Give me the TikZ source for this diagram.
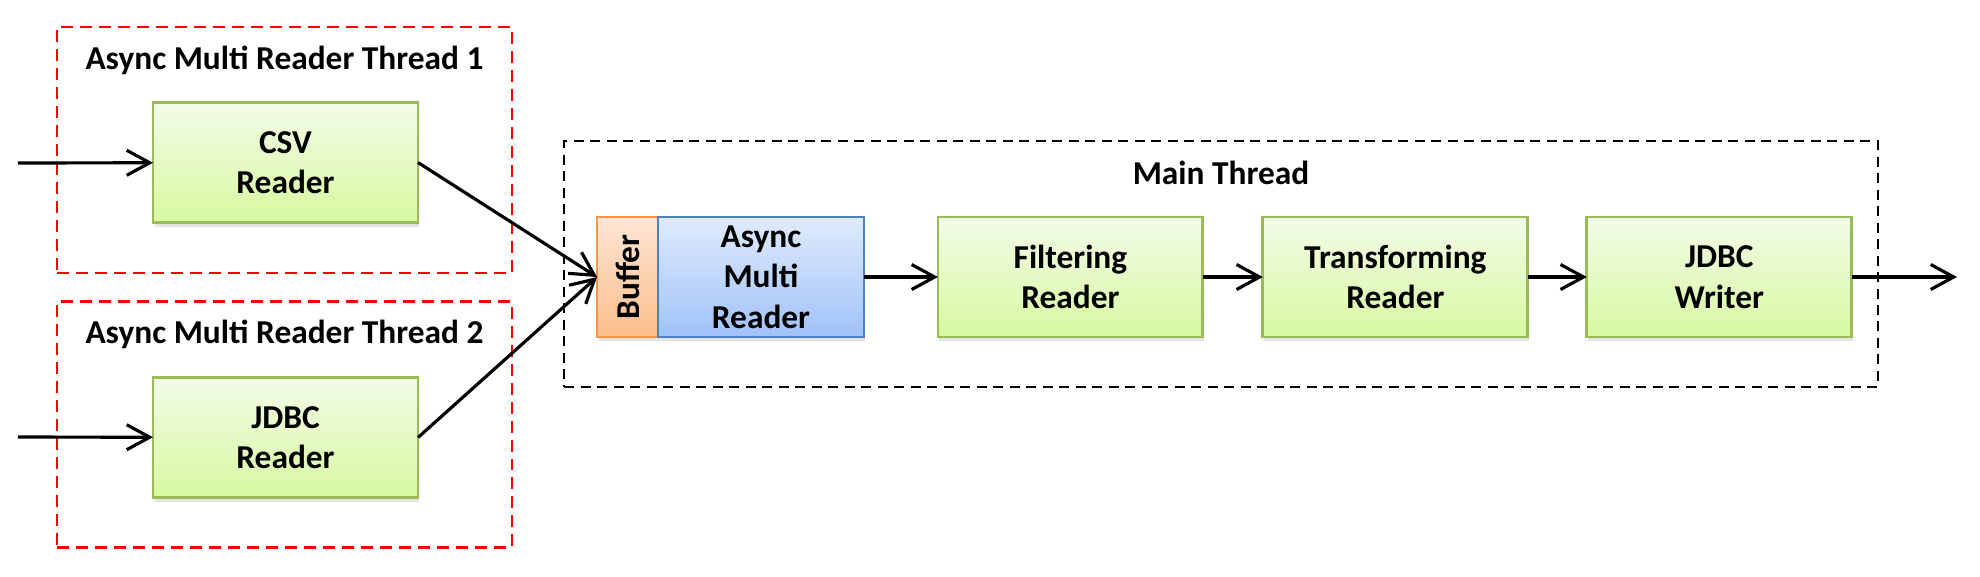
\documentclass[tikz,border=0pt]{standalone}
\usepackage{fontspec}
\setmainfont{Carlito}
\usetikzlibrary{arrows.meta, positioning, shadows}
\definecolor{leafGreen}{RGB}{155,187,89}
\definecolor{leafTop}{RGB}{243,251,232}
\definecolor{leafBottom}{RGB}{215,249,160}
\definecolor{skyBlue}{RGB}{79,129,189}
\definecolor{skyTop}{RGB}{224,235,252}
\definecolor{skyBottom}{RGB}{160,194,248}
\definecolor{peachOrange}{RGB}{247,150,70}
\definecolor{peachTop}{RGB}{253,230,214}
\definecolor{peachBottom}{RGB}{251,190,138}

\begin{document}
\begin{tikzpicture}[
  x=0.02cm, y=-0.02cm,
  txt/.style={font=\fontsize{19}{23}\selectfont\bfseries, align=center},
  stage/.style={
    rectangle, txt, line width=1.6pt, inner sep=0pt, outer sep=0pt,
    minimum width=5.3cm, minimum height=2.4cm,
    drop shadow={opacity=0.22, shadow xshift=0.03cm, shadow yshift=-0.09cm}
  },
  green/.style={stage, draw=leafGreen, top color=leafTop, bottom color=leafBottom},
  blue/.style={stage, draw=skyBlue, top color=skyTop, bottom color=skyBottom},
  orange/.style={stage, draw=peachOrange, top color=peachTop, bottom color=peachBottom},
  thread/.style={
    rectangle, draw=#1, line width=1.5pt, inner sep=0pt,
    minimum height=4.92cm
  },
  flow/.style={-{Straight Barb[length=0.46cm, width=0.5cm]}, line width=1.8pt},
  node distance=1.2cm
]
  \useasboundingbox (0,0) rectangle (1980,576);

  % thread frames
  \node[thread=red, dash pattern=on 0.24cm off 0.14cm,
    minimum width=9.1cm] (T1) at (284.5,150) {};
  \node[thread=red, dash pattern=on 0.24cm off 0.14cm,
    minimum width=9.1cm] (T2) at (284.5,424.5) {};
  \node[thread=black, dash pattern=on 0.2cm off 0.13cm,
    minimum width=26.28cm] (MT) at (1221,264) {};
  \node[txt] (T1lbl) at (284.5,60) {Async Multi Reader Thread 1};
  \node[txt] (T2lbl) at (284.5,334) {Async Multi Reader Thread 2};
  \node[txt] (MTlbl) at (1221,173) {Main Thread};

  % readers
  \node[green] (csv) at (285.5,162.5) {CSV\\Reader};
  \node[green] (jdbcR) at (285.5,437.5) {JDBC\\Reader};

  % main pipeline
  \node[orange, minimum width=1.22cm] (buf) at (627.5,277)
    {\rotatebox{90}{Buffer}};
  \node[blue, minimum width=4.12cm, right=0pt of buf] (async)
    {Async\\Multi\\Reader};
  \node[green, right=1.48cm of async] (filt) {Filtering\\Reader};
  \node[green, right=of filt] (trans) {Transforming\\Reader};
  \node[green, right=1.18cm of trans] (writer) {JDBC\\Writer};

  \coordinate (in1) at (18,163);
  \coordinate (in2) at (18,437);
  \coordinate (out) at (1957,277);

  \foreach \a/\b in {in1/csv, in2/jdbcR, async/filt, filt/trans, trans/writer, writer/out}
    \draw[flow] (\a) -- (\b);
  \draw[flow] (csv.east) -- (buf.west);
  \draw[flow] (jdbcR.east) -- (buf.west);
\end{tikzpicture}
\end{document}
